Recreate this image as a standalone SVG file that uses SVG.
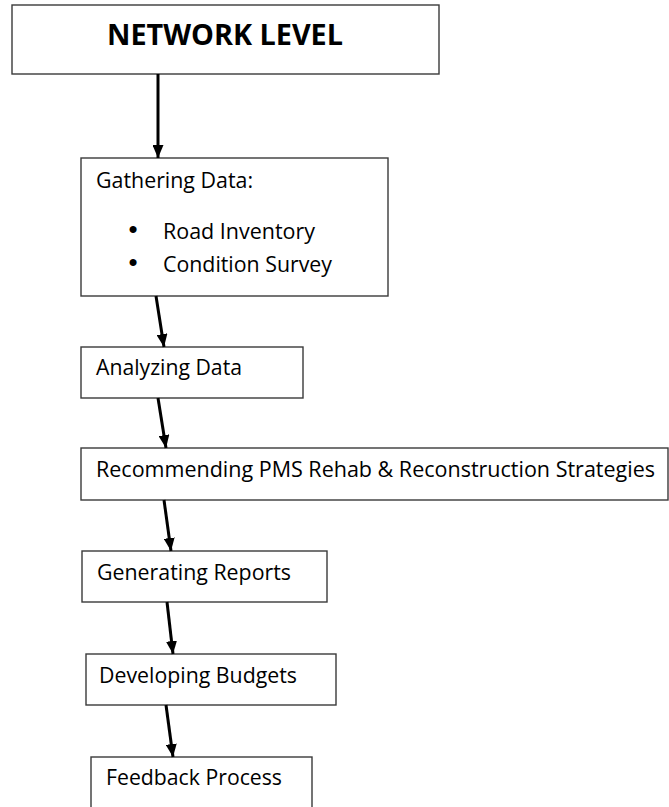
<svg xmlns="http://www.w3.org/2000/svg" width="669" height="807" viewBox="0 0 669 807">
  <style>
    .box { fill: #ffffff; stroke: #3a3a3a; stroke-width: 1.4; }
    .label { font-family: "Open Sans", "Liberation Sans", sans-serif; font-size: 21px; fill: #000000; }
    .title { font-family: "Open Sans", "Liberation Sans", sans-serif; font-size: 28px; font-weight: bold; fill: #000000; }
    .bullet { font-family: "Liberation Sans", sans-serif; font-size: 26px; fill: #000000; text-anchor: middle; }
    .link { stroke: #000000; stroke-width: 3; fill: none; marker-end: url(#head); }
  </style>
  <defs>
    <marker id="head" viewBox="0 0 13 11" refX="13" refY="5.5" markerWidth="13" markerHeight="11" markerUnits="userSpaceOnUse" orient="auto">
      <path d="M0,0 L13,5.5 L0,11 Z" fill="#000000"/>
    </marker>
  </defs>
  <rect width="669" height="807" fill="#ffffff"/>

  <g id="network-level">
    <rect class="box" x="12" y="5" width="427" height="69"/>
    <text class="title" x="107" y="45" textLength="236" lengthAdjust="spacingAndGlyphs">NETWORK LEVEL</text>
  </g>

  <g id="gathering-data">
    <rect class="box" x="81" y="158" width="307" height="138"/>
    <text class="label" x="96" y="188" textLength="157" lengthAdjust="spacingAndGlyphs">Gathering Data:</text>
    <text class="bullet" x="133" y="238">•</text>
    <text class="label" x="163" y="239" textLength="152" lengthAdjust="spacingAndGlyphs">Road Inventory</text>
    <text class="bullet" x="133" y="271">•</text>
    <text class="label" x="163" y="272" textLength="169" lengthAdjust="spacingAndGlyphs">Condition Survey</text>
  </g>

  <g id="analyzing-data">
    <rect class="box" x="81" y="347" width="222" height="51"/>
    <text class="label" x="96" y="375" textLength="146" lengthAdjust="spacingAndGlyphs">Analyzing Data</text>
  </g>

  <g id="recommending">
    <rect class="box" x="81" y="448" width="587" height="52"/>
    <text class="label" x="96" y="477" textLength="559" lengthAdjust="spacingAndGlyphs">Recommending PMS Rehab &amp; Reconstruction Strategies</text>
  </g>

  <g id="generating-reports">
    <rect class="box" x="82" y="551" width="245" height="51"/>
    <text class="label" x="97" y="580" textLength="194" lengthAdjust="spacingAndGlyphs">Generating Reports</text>
  </g>

  <g id="developing-budgets">
    <rect class="box" x="86" y="654" width="250" height="51"/>
    <text class="label" x="99" y="683" textLength="198" lengthAdjust="spacingAndGlyphs">Developing Budgets</text>
  </g>

  <g id="feedback-process">
    <rect class="box" x="91" y="757" width="221" height="60"/>
    <text class="label" x="106" y="785" textLength="176" lengthAdjust="spacingAndGlyphs">Feedback Process</text>
  </g>

  <g id="connectors">
    <line class="link" x1="158" y1="74" x2="158" y2="158"/>
    <line class="link" x1="156" y1="296" x2="164" y2="347"/>
    <line class="link" x1="158" y1="398" x2="166" y2="448"/>
    <line class="link" x1="164" y1="500" x2="171" y2="551"/>
    <line class="link" x1="167" y1="602" x2="173" y2="654"/>
    <line class="link" x1="166" y1="705" x2="173" y2="757"/>
  </g>
</svg>
